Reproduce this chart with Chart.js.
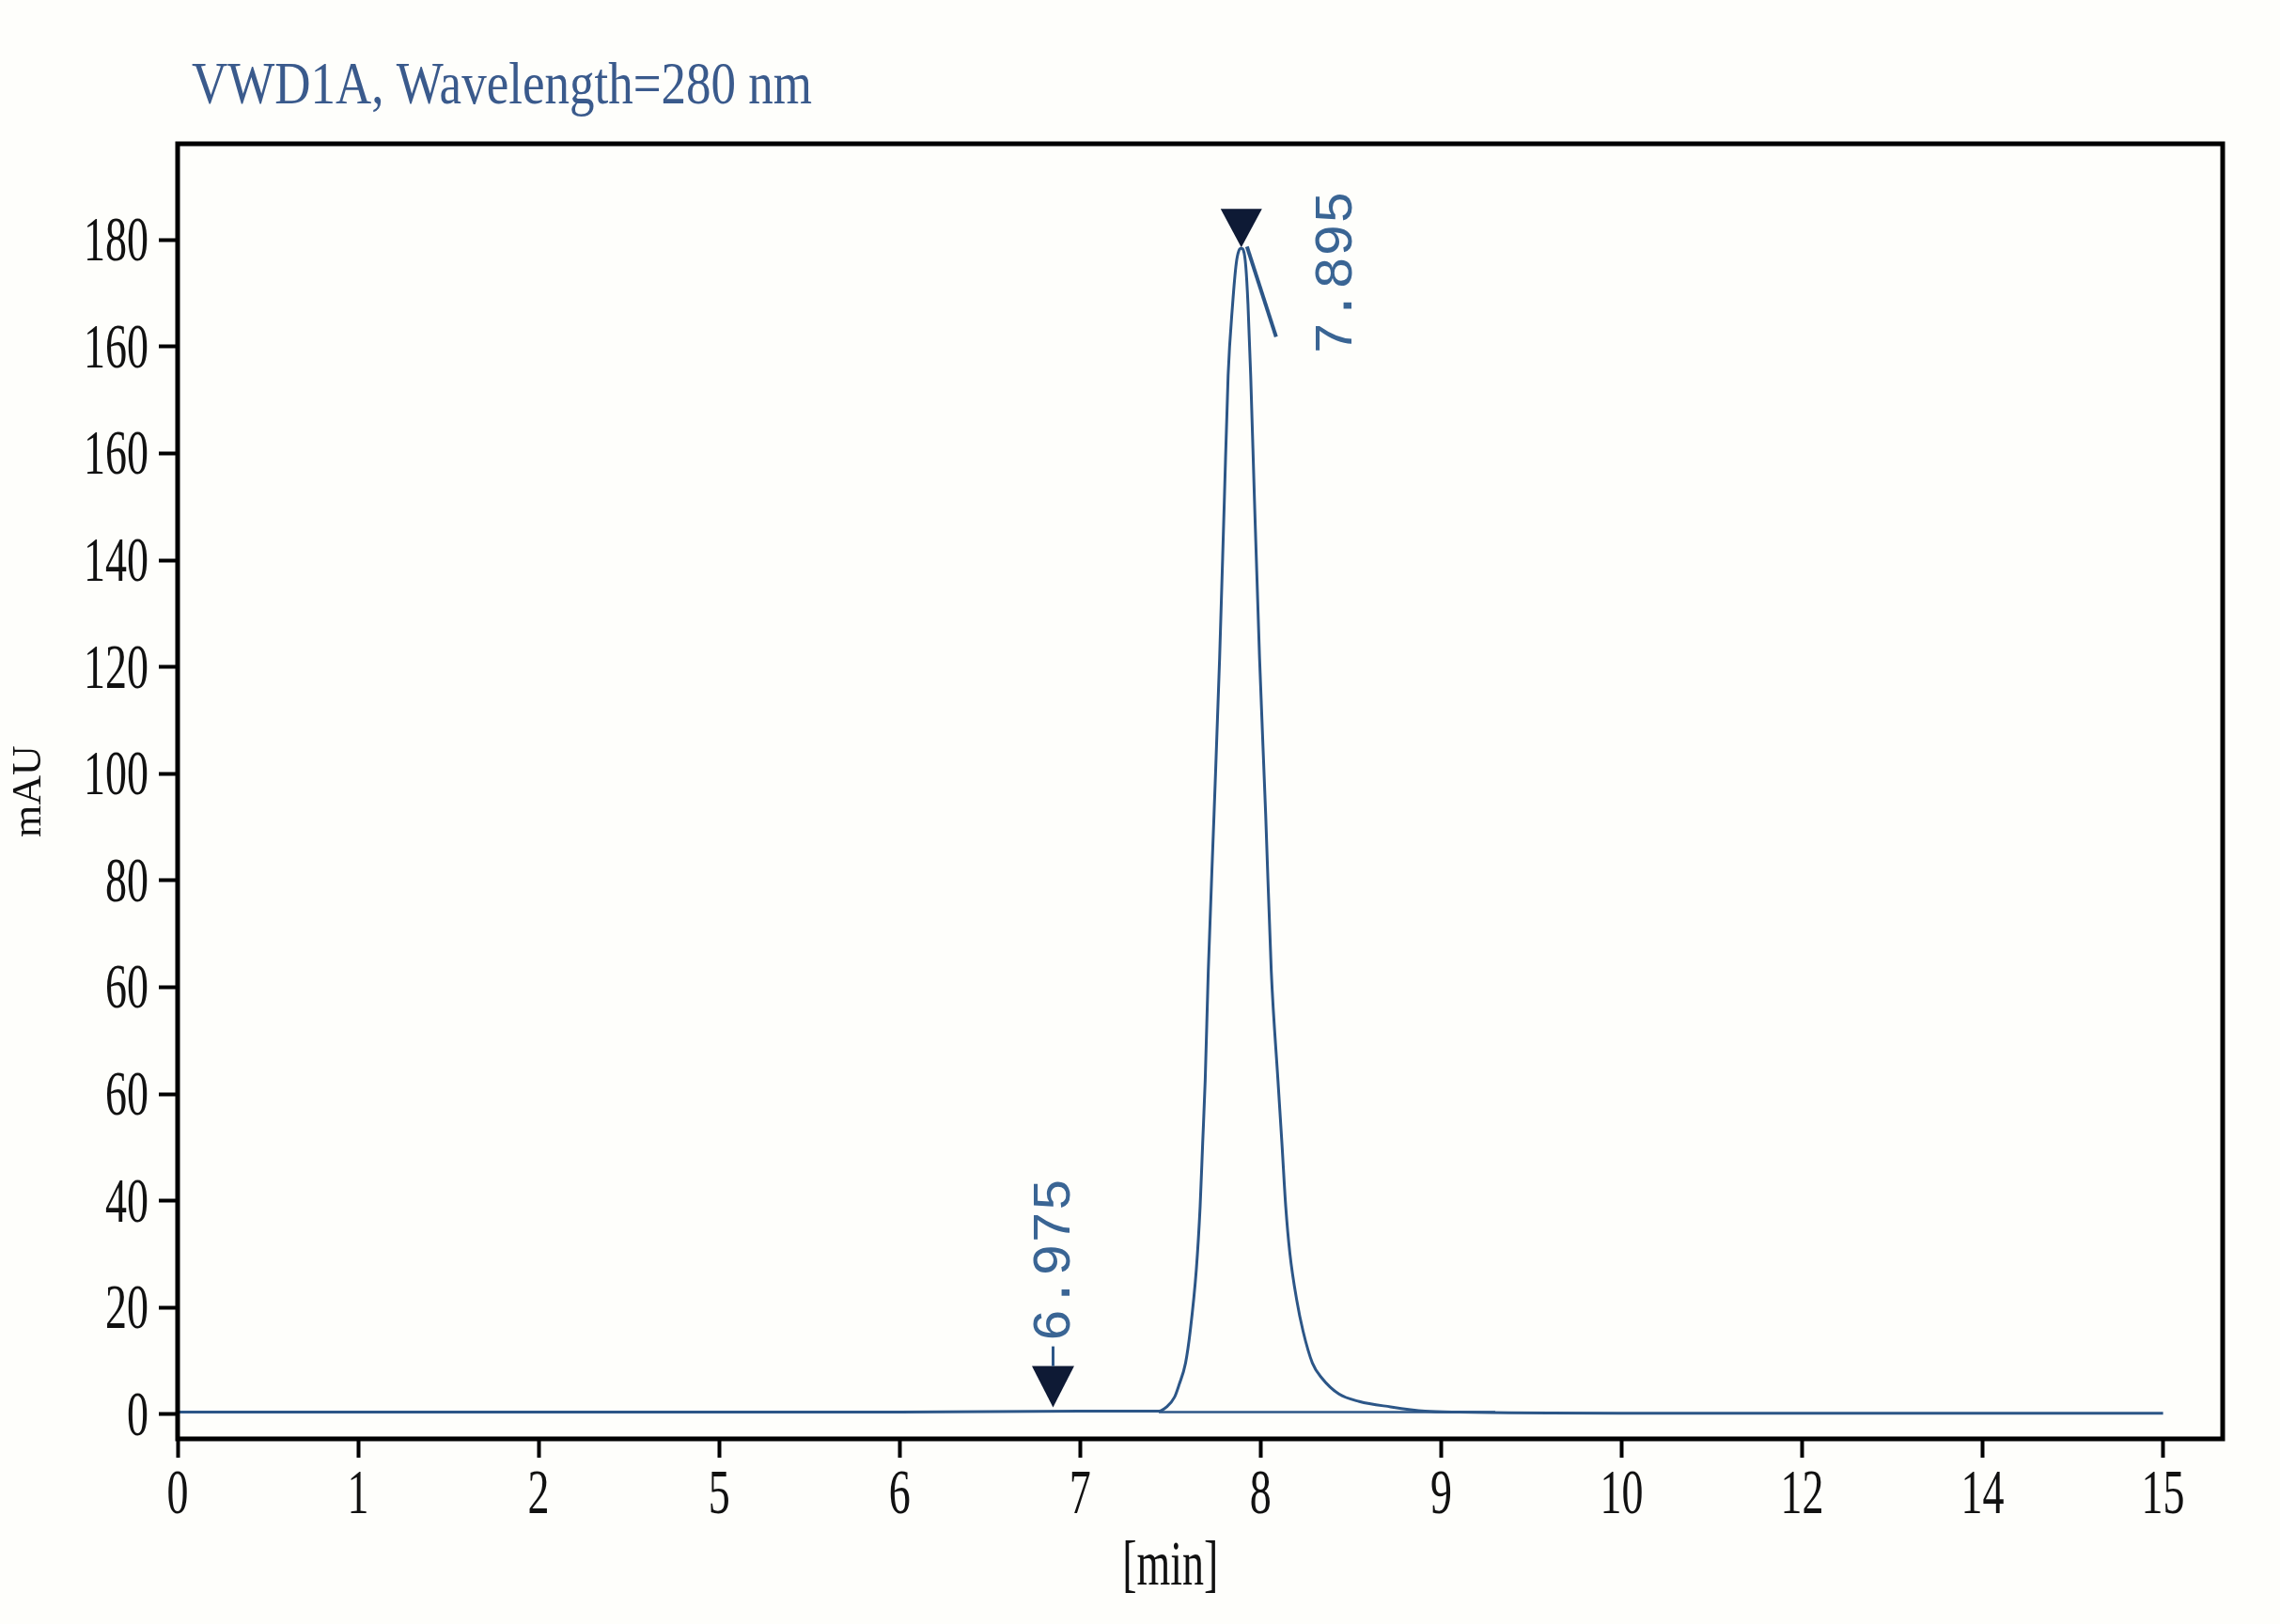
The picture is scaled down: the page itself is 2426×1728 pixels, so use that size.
<!DOCTYPE html>
<html>
<head>
<meta charset="utf-8">
<script src="https://cdn.jsdelivr.net/npm/chart.js@4.4.1/dist/chart.umd.min.js"></script>
<style>
  html, body { margin: 0; padding: 0; background: #fefefb; }
  canvas { display: block; }
</style>
</head>
<body>
<canvas id="chrom" width="2426" height="1728"></canvas>
<script>
// labels as printed on the chromatogram (axes are evenly spaced positions)
const titleText = 'VWD1A, Wavelength=280 nm';
const xTitle = '[min]';
const yTitle = 'mAU';
const xTickLabels = ['0', '1', '2', '5', '6', '7', '8', '9', '10', '12', '14', '15'];
const yTickLabels = ['0', '20', '40', '60', '60', '80', '100', '120', '140', '160', '160', '180'];

// signal trace, x = tick position, y = tick position
const timePos = [0, 1, 2, 3, 4, 5, 5.436, 5.480, 5.523, 5.549, 5.584, 5.610, 5.644, 5.665, 5.679,
  5.693, 5.710, 5.742, 5.773, 5.799, 5.820, 5.845, 5.865, 5.880, 5.893, 5.905, 5.918, 5.930, 5.945, 5.966,
  5.994, 6.028, 6.059, 6.096, 6.118, 6.139, 6.162, 6.200, 6.235, 6.287, 6.339, 6.434, 6.547,
  6.720, 6.911, 7.1, 8, 9, 10, 11];
const signal = [0.02, 0.02, 0.02, 0.02, 0.02, 0.03, 0.03, 0.07, 0.16, 0.28, 0.48, 0.78, 1.36, 1.95, 2.54,
  3.13, 4.15, 5.62, 7.09, 8.56, 9.73, 10.40, 10.78, 10.90, 10.92, 10.90, 10.75, 10.40, 9.73, 8.56,
  7.09, 5.62, 4.15, 3.13, 2.54, 1.95, 1.51, 1.07, 0.78, 0.48, 0.34, 0.19, 0.12,
  0.07, 0.03, 0.02, 0.01, 0.01, 0.01, 0.01];

// integration baseline under the peak
const basePos = [5.436, 7.3];
const baseLevel = [0.02, 0.02];

// retention time markers
const peakPos = [4.85, 5.893];
const peakLevel = [0.02, 10.92];
const peakLabels = ['6.975', '7.895'];

const traceColor = '#2c5687';
const noteColor = '#3a6594';

function stretchText(ctx, txt, x, y, sx, sy) {
  ctx.save();
  ctx.translate(x, y);
  ctx.scale(sx, sy);
  ctx.fillText(txt, 0, 0);
  ctx.restore();
}

const chromDecor = {
  id: 'chromDecor',
  beforeDraw(chart) {
    const ctx = chart.ctx;
    ctx.save();
    ctx.fillStyle = '#fefefb';
    ctx.fillRect(0, 0, chart.width, chart.height);
    ctx.restore();
  },
  afterDraw(chart) {
    const {ctx, chartArea: a, scales: {x, y}} = chart;
    ctx.save();

    // frame
    ctx.strokeStyle = '#000';
    ctx.lineWidth = 5;
    ctx.strokeRect(a.left, a.top, a.right - a.left, a.bottom - a.top);

    // tick labels (tall narrow serif)
    ctx.fillStyle = '#111';
    ctx.font = '46px "Liberation Serif"';
    ctx.textBaseline = 'alphabetic';
    ctx.textAlign = 'center';
    x.ticks.forEach(t => stretchText(ctx, xTickLabels[t.value], x.getPixelForValue(t.value), a.bottom + 79, 1, 1.45));
    ctx.textAlign = 'right';
    y.ticks.forEach(t => stretchText(ctx, yTickLabels[t.value], a.left - 31, y.getPixelForValue(t.value) + 22, 1, 1.45));

    // axis titles
    ctx.textAlign = 'center';
    stretchText(ctx, xTitle, (x.getPixelForValue(0) + x.getPixelForValue(11)) / 2, a.bottom + 155, 1, 1.45);
    ctx.save();
    ctx.font = '44px "Liberation Serif"';
    ctx.translate(43, (a.top + a.bottom) / 2);
    ctx.rotate(-Math.PI / 2);
    ctx.fillText(yTitle, 0, 0);
    ctx.restore();

    // title
    ctx.fillStyle = '#3a5a8c';
    ctx.font = '46px "Liberation Serif"';
    ctx.textAlign = 'left';
    const w = ctx.measureText(titleText).width;
    stretchText(ctx, titleText, 204, 110, 660 / w, 1.38);

    // retention time markers
    const styles = [
      {dy: -5, h: 44, half: 22.5, stem: 21, tx: 18, ty: -75},
      {dy: -1, h: 41, half: 22, stem: 0, tx: 117, ty: 113}
    ];
    peakPos.forEach((p, i) => {
      const s = styles[i];
      const px = x.getPixelForValue(p);
      const py = y.getPixelForValue(peakLevel[i]);
      const ay = py + s.dy;
      ctx.fillStyle = '#0e1a35';
      ctx.beginPath();
      ctx.moveTo(px, ay);
      ctx.lineTo(px - s.half, ay - s.h);
      ctx.lineTo(px + s.half, ay - s.h);
      ctx.closePath();
      ctx.fill();
      ctx.strokeStyle = traceColor;
      ctx.lineWidth = 3;
      if (s.stem) {
        ctx.beginPath();
        ctx.moveTo(px, ay - s.h);
        ctx.lineTo(px, ay - s.h - s.stem);
        ctx.stroke();
      } else {
        ctx.lineWidth = 4;
        ctx.beginPath();
        ctx.moveTo(px + 6, py - 2);
        ctx.lineTo(px + 37, py + 94);
        ctx.stroke();
      }
      ctx.save();
      ctx.fillStyle = noteColor;
      ctx.font = '58px "Liberation Mono"';
      ctx.textAlign = 'left';
      ctx.textBaseline = 'alphabetic';
      ctx.translate(px + s.tx, py + s.ty);
      ctx.rotate(-Math.PI / 2);
      ctx.fillText(peakLabels[i], 0, 0);
      ctx.restore();
    });

    ctx.restore();
  }
};

const tickGrid = {
  display: true,
  drawOnChartArea: false,
  drawTicks: true,
  tickLength: 20,
  tickWidth: 4,
  tickColor: '#000'
};

new Chart(document.getElementById('chrom'), {
  type: 'line',
  data: {
    datasets: [
      {
        data: timePos.map((t, i) => ({x: t, y: signal[i]})),
        borderColor: traceColor,
        borderWidth: 3,
        pointRadius: 0,
        cubicInterpolationMode: 'monotone',
        borderJoinStyle: 'round',
        fill: false
      },
      {
        data: basePos.map((t, i) => ({x: t, y: baseLevel[i]})),
        borderColor: traceColor,
        borderWidth: 2.5,
        pointRadius: 0,
        fill: false
      }
    ]
  },
  options: {
    responsive: false,
    devicePixelRatio: 1,
    animation: false,
    layout: { padding: { top: 153, right: 61, left: 0, bottom: 0 } },
    plugins: { legend: { display: false }, tooltip: { enabled: false } },
    scales: {
      x: {
        type: 'linear',
        min: 0,
        max: 11.33,
        grid: tickGrid,
        border: { display: false },
        ticks: { display: false, autoSkip: false },
        afterBuildTicks: s => { s.ticks = xTickLabels.map((_, i) => ({value: i})); },
        afterFit: s => { s.height = 197; }
      },
      y: {
        type: 'linear',
        min: -0.23,
        max: 11.9,
        grid: tickGrid,
        border: { display: false },
        ticks: { display: false },
        afterBuildTicks: s => { s.ticks = yTickLabels.map((_, i) => ({value: i})); },
        afterFit: s => { s.width = 189; }
      }
    }
  },
  plugins: [chromDecor]
});
</script>
</body>
</html>
